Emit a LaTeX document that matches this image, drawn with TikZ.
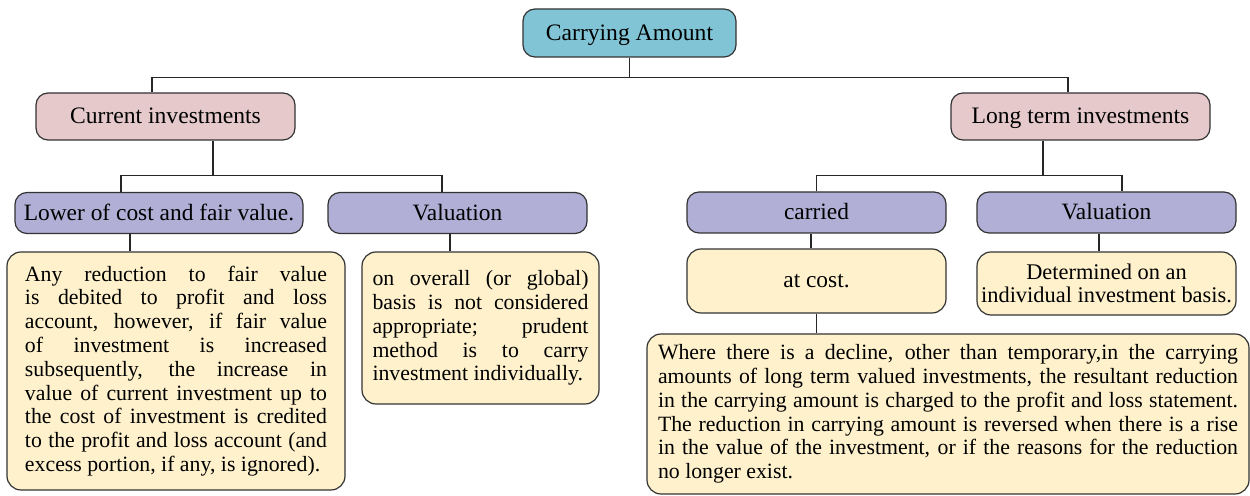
\documentclass[tikz,border=0pt]{standalone}
\usepackage{fontspec}
\setmainfont{Liberation Serif}
\usepackage{xcolor}
\usepackage{tikz}
\usetikzlibrary{calc, positioning}

\definecolor{rootblue}{RGB}{128,196,214}
\definecolor{grouppink}{RGB}{230,202,203}
\definecolor{itemlilac}{RGB}{177,175,214}
\definecolor{notecream}{RGB}{254,241,204}

\begin{document}
\begin{tikzpicture}[
        x=0.5pt, y=-0.5pt,
        box/.style = {draw=black!80, line width=0.6pt, rounded corners=6pt, inner sep=0pt, align=center},
        label/.style = {box, text height=1.7ex, text depth=0.1ex},
        rootnode/.style = {label, fill=rootblue, minimum width=106.5pt, minimum height=24pt, font=\fontsize{11.8}{14}\selectfont},
        groupnode/.style = {label, fill=grouppink, minimum width=129.5pt, minimum height=23.5pt, font=\fontsize{11.8}{14}\selectfont},
        itemnode/.style = {label, fill=itemlilac, minimum width=129.5pt, minimum height=20.5pt, font=\fontsize{11.7}{14}\selectfont},
        notenode/.style = {box, fill=notecream, rounded corners=7pt, align=justify, font=\fontsize{10.9}{11.9}\selectfont},
        link/.style = {draw=black!85, line width=0.6pt}
    ]

    \useasboundingbox (0,0) rectangle (1250,496);

    \node [rootnode] (root) at (629.5,33) {Carrying Amount};

    \node [groupnode] (cur) at (165.5,116.5) {Current investments};
    \node [groupnode] (long) at (1080.5,116.5) {Long term investments};

    \node [itemnode, minimum width=144pt] (lower) at (159,213) {Lower of cost and fair value.};
    \node [itemnode] (valcur) at (457.5,213) {Valuation};
    \node [itemnode] (carried) at (816.5,212.5) {carried};
    \node [itemnode] (vallong) at (1106.5,212.5) {Valuation};

    \node [notenode, minimum width=169pt, minimum height=119pt, text width=151pt] (notelower) at (176,371)
        {Any reduction to fair value\linebreak
         is debited to profit and loss\linebreak
         account, however, if fair value\linebreak
         of investment is increased\linebreak
         subsequently, the increase in\linebreak
         value of current investment up to\linebreak
         the cost of investment is credited\linebreak
         to the profit and loss account (and\linebreak
         excess portion, if any, is ignored).};
    \node [notenode, minimum width=118.5pt, minimum height=76pt, text width=108pt] (notevalcur) at (480.5,328)
        {on overall (or global)\linebreak
         basis is not considered\linebreak
         appropriate; prudent\linebreak
         method is to carry\linebreak
         investment individually.};
    \node [notenode, align=center, minimum width=129.5pt, minimum height=32pt, font=\fontsize{11.7}{14}\selectfont] (atcost) at (816.5,281) {at cost.};
    \node [notenode, align=center, minimum width=129.5pt, minimum height=31.5pt, font=\fontsize{11.2}{11.4}\selectfont] (determined) at (1106.5,283.5)
        {Determined on an\\individual investment basis.};
    \node [notenode, minimum width=301pt, minimum height=80pt, text width=290pt] (notelong) at (948,414)
        {Where there is a decline, other than temporary,in the carrying\linebreak
         amounts of long term valued investments, the resultant reduction\linebreak
         in the carrying amount is charged to the profit and loss statement.\linebreak
         The reduction in carrying amount is reversed when there is a rise\linebreak
         in the value of the investment, or if the reasons for the reduction\linebreak
         no longer exist.};

    \draw [link] (root.south) -- ++(0,20) coordinate (rootbus);
    \draw [link] ($(cur.north)+(-13.5,0)$) |- (rootbus) -| ($(long.north)+(-12.5,0)$);

    \draw [link] ($(cur.south)+(47.5,0)$) -- ++(0,35) coordinate (curbus);
    \draw [link] ($(lower.north)+(-38,0)$) |- (curbus) -| ($(valcur.north)+(-15.5,0)$);

    \draw [link] ($(long.south)+(-37.5,0)$) -- ++(0,35) coordinate (longbus);
    \draw [link] (carried.north) |- (longbus) -| ($(vallong.north)+(15.5,0)$);

    \draw [link] ($(lower.south)+(-29,0)$) coordinate (lowerstem) -- (lowerstem |- notelower.north);
    \draw [link] ($(valcur.south)+(-7.5,0)$) coordinate (valcurstem) -- (valcurstem |- notevalcur.north);
    \draw [link] ($(carried.south)+(-5.5,0)$) coordinate (carriedstem) -- (carriedstem |- atcost.north);
    \draw [link] ($(vallong.south)+(-7.5,0)$) coordinate (vallongstem) -- (vallongstem |- determined.north);
    \draw [link] (atcost.south) -- (atcost.south |- notelong.north);

\end{tikzpicture}
\end{document}
